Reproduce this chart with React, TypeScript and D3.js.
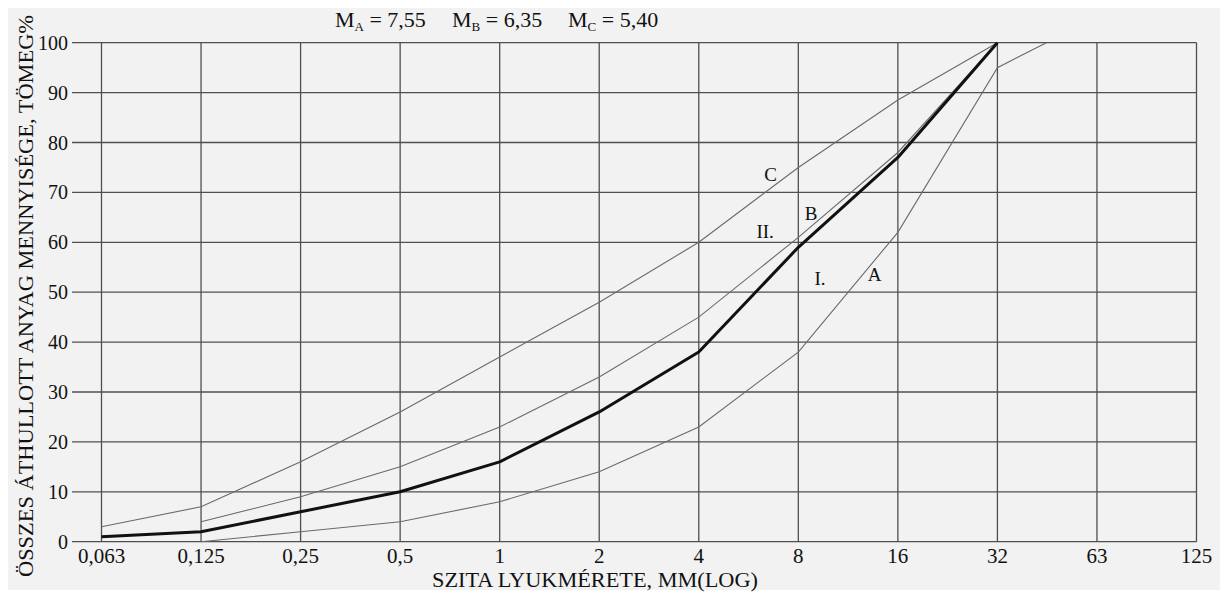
import React, { useEffect, useRef } from "react";
import * as d3 from "d3";

// sieve sizes (mm, nominal doubling) and the labels printed under them
const sieveSizes = [0.0625, 0.125, 0.25, 0.5, 1, 2, 4, 8, 16, 32, 64, 128];
const sieveLabels = ["0,063", "0,125", "0,25", "0,5", "1", "2", "4", "8", "16", "32", "63", "125"];
const percentTicks = [0, 10, 20, 30, 40, 50, 60, 70, 80, 90, 100];

// limit curve C (top)
const curveCSizes = [0.0625, 0.125, 0.25, 0.5, 1, 2, 4, 8, 16, 32];
const curveCValues = [3, 7, 16, 26, 37, 48, 60, 75, 88.5, 100];

// limit curve B
const curveBSizes = [0.125, 0.25, 0.5, 1, 2, 4, 8, 16, 32];
const curveBValues = [4, 9, 15, 23, 33, 45, 61, 78, 100];

// limit curve A (bottom)
const curveASizes = [0.125, 0.25, 0.5, 1, 2, 4, 8, 16, 32, 45];
const curveAValues = [0, 2, 4, 8, 14, 23, 38, 62, 95, 100];

// measured grading (thick line)
const sampleSizes = [0.0625, 0.125, 0.25, 0.5, 1, 2, 4, 8, 16, 32];
const sampleValues = [1, 2, 6, 10, 16, 26, 38, 59, 77, 100];

// curve / zone labels, placed in data units
const noteTexts = ["C", "B", "II.", "I.", "A"];
const noteSizes = [6.6, 8.75, 6.35, 9.3, 13.6];
const noteValues = [73.5, 65.7, 62.1, 52.6, 53.5];

const FONT = "Liberation Serif, Tinos, Times New Roman, DejaVu Serif, serif";

const App = () => {
  const svgRef = useRef<SVGSVGElement>(null);

  useEffect(() => {
    const svg = d3.select(svgRef.current);
    svg.selectAll("*").remove();

    const width = 1220;
    const height = 592;

    const x = d3.scaleLog().base(2).domain([0.0625, 128]).range([101.5, 1196.5]);
    const y = d3.scaleLinear().domain([0, 100]).range([541.7, 42.7]);

    svg.append("rect").attr("width", width).attr("height", height).attr("fill", "#fff");
    svg
      .append("rect")
      .attr("x", 8)
      .attr("y", 8)
      .attr("width", width - 8)
      .attr("height", height - 10)
      .attr("fill", "#f2f2f2");

    // horizontal grid
    svg
      .append("g")
      .selectAll("line")
      .data(percentTicks)
      .enter()
      .append("line")
      .attr("x1", 72)
      .attr("x2", x(128))
      .attr("y1", (d) => y(d))
      .attr("y2", (d) => y(d))
      .attr("stroke", "#4f4f4f")
      .attr("stroke-width", 1.3);

    // vertical grid
    svg
      .append("g")
      .selectAll("line")
      .data(sieveSizes)
      .enter()
      .append("line")
      .attr("x1", (d) => x(d))
      .attr("x2", (d) => x(d))
      .attr("y1", y(0))
      .attr("y2", y(100))
      .attr("stroke", "#4f4f4f")
      .attr("stroke-width", 1.3);

    // y tick labels
    svg
      .append("g")
      .selectAll("text")
      .data(percentTicks)
      .enter()
      .append("text")
      .attr("x", 68)
      .attr("y", (d) => y(d) + 7)
      .attr("text-anchor", "end")
      .attr("font-family", FONT)
      .attr("font-size", 20)
      .attr("fill", "#111")
      .text((d) => d);

    // x tick labels
    svg
      .append("g")
      .selectAll("text")
      .data(sieveSizes)
      .enter()
      .append("text")
      .attr("x", (d) => x(d))
      .attr("y", 563)
      .attr("text-anchor", "middle")
      .attr("font-family", FONT)
      .attr("font-size", 21)
      .attr("fill", "#111")
      .text((d, i) => sieveLabels[i]);

    const line = d3
      .line<[number, number]>()
      .x((d) => x(d[0]))
      .y((d) => y(d[1]));

    const thinCurves = [
      d3.zip(curveCSizes, curveCValues),
      d3.zip(curveBSizes, curveBValues),
      d3.zip(curveASizes, curveAValues),
    ];

    svg
      .append("g")
      .selectAll("path")
      .data(thinCurves)
      .enter()
      .append("path")
      .attr("d", (d) => line(d as [number, number][]))
      .attr("fill", "none")
      .attr("stroke", "#6a6a6a")
      .attr("stroke-width", 1.1);

    svg
      .append("path")
      .attr("d", line(d3.zip(sampleSizes, sampleValues) as [number, number][]))
      .attr("fill", "none")
      .attr("stroke", "#111")
      .attr("stroke-width", 3)
      .attr("stroke-linejoin", "round");

    // curve labels
    svg
      .append("g")
      .selectAll("text")
      .data(noteTexts)
      .enter()
      .append("text")
      .attr("x", (d, i) => x(noteSizes[i]))
      .attr("y", (d, i) => y(noteValues[i]) + 6)
      .attr("text-anchor", "middle")
      .attr("font-family", FONT)
      .attr("font-size", 19)
      .attr("fill", "#111")
      .text((d) => d);

    // axis titles
    svg
      .append("text")
      .attr("x", 595)
      .attr("y", 587)
      .attr("text-anchor", "middle")
      .attr("font-family", FONT)
      .attr("font-size", 22)
      .attr("textLength", 326)
      .attr("lengthAdjust", "spacingAndGlyphs")
      .attr("fill", "#111")
      .text("SZITA LYUKMÉRETE, MM(LOG)");

    svg
      .append("text")
      .attr("transform", "translate(33,296) rotate(-90)")
      .attr("text-anchor", "middle")
      .attr("font-family", FONT)
      .attr("font-size", 21.5)
      .attr("textLength", 562)
      .attr("lengthAdjust", "spacingAndGlyphs")
      .attr("fill", "#111")
      .text("ÖSSZES ÁTHULLOTT ANYAG MENNYISÉGE, TÖMEG%");

    // fineness moduli at the top
    const moduli = [
      { sub: "A", value: "7,55", at: 335 },
      { sub: "B", value: "6,35", at: 452 },
      { sub: "C", value: "5,40", at: 568 },
    ];
    const mod = svg
      .append("g")
      .selectAll("text")
      .data(moduli)
      .enter()
      .append("text")
      .attr("x", (d) => d.at)
      .attr("y", 27)
      .attr("font-family", FONT)
      .attr("font-size", 22)
      .attr("fill", "#111");
    mod.append("tspan").text("M");
    mod.append("tspan").attr("font-size", 13).attr("dy", 4).text((d) => d.sub);
    mod.append("tspan").attr("dy", -4).text((d) => ` = ${d.value}`);
  }, []);

  return (
    <svg
      ref={svgRef}
      width={1220}
      height={592}
      style={{ position: "fixed", top: 0, left: 0, display: "block" }}
    ></svg>
  );
};

export default App;
